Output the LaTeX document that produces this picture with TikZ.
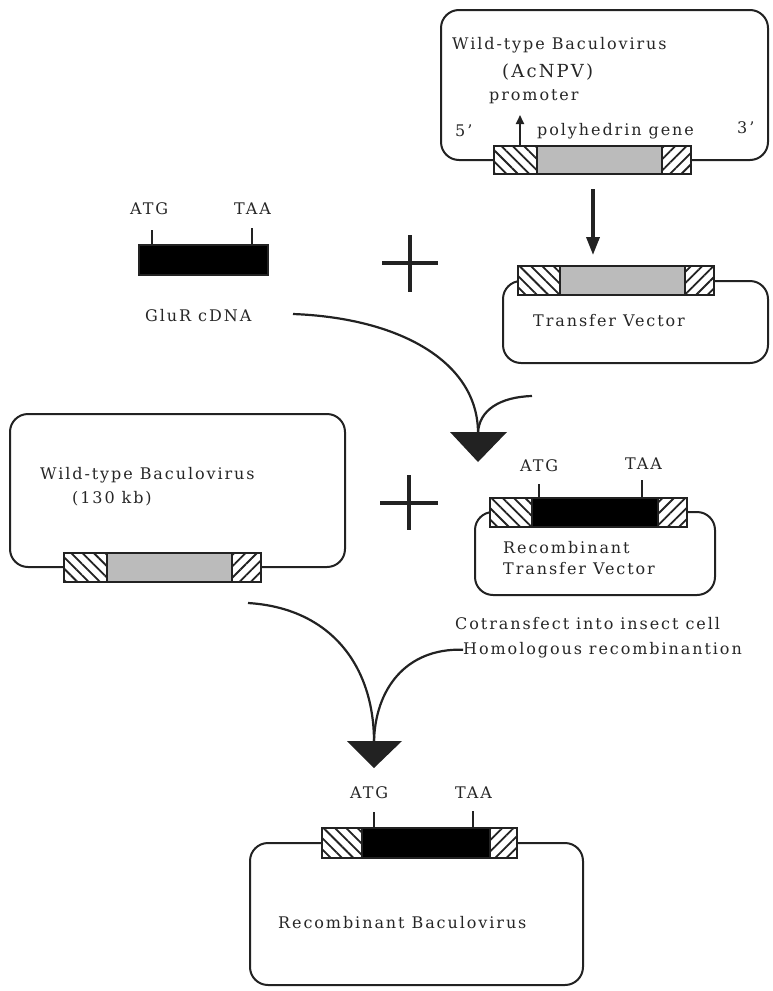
\documentclass[tikz,border=0pt]{standalone}
\usepackage{fontspec}
\setmainfont{DejaVu Serif}[LetterSpace=12]
\usetikzlibrary{patterns.meta,arrows.meta}
\definecolor{ink}{HTML}{222222}
\definecolor{genegray}{HTML}{BBBBBB}
\begin{document}
\begin{tikzpicture}[x=1pt,y=-1pt,
  box/.style={draw=ink,line width=2pt,rounded corners=18pt},
  hatchL/.style={draw=ink,line width=1.8pt,preaction={fill=white},
     pattern={Lines[angle=-45,distance=8pt,line width=1.8pt]},pattern color=ink},
  hatchR/.style={draw=ink,line width=1.8pt,preaction={fill=white},
     pattern={Lines[angle=45,distance=8pt,line width=1.8pt]},pattern color=ink},
  polyh/.style={draw=ink,line width=1.8pt,fill=genegray},
  coding/.style={draw=ink,line width=1.8pt,fill=black},
  lbl/.style={anchor=base west,inner sep=0pt,font=\fontsize{16}{18}\selectfont,text=black!85},
  tick/.style={draw=ink,line width=1.8pt},
  flow/.style={draw=ink,line width=2.2pt},
  plus/.style={draw=ink,line width=4pt},
  head/.style={fill=ink}]
\useasboundingbox (0,0) rectangle (772,991);

% ---------- top: wild-type AcNPV ----------
\draw[box] (441,10) rectangle (768,160);
\node[lbl] (wt1) at (452,49) {Wild-type Baculovirus};
\node[lbl,font=\fontsize{18}{20}\selectfont] (acnpv) at (502,77) {(AcNPV)};
\node[lbl] (prom) at (489,100) {promoter};
\node[lbl] (five) at (455,136) {5'};
\node[lbl] (poly) at (537,135) {polyhedrin gene};
\node[lbl] (three) at (737,133) {3'};
\path[hatchL] (494,146) rectangle (537,174);
\path[polyh] (537,146) rectangle (662,174);
\path[hatchR] (662,146) rectangle (691,174);
\coordinate (promfoot) at (520,146);
\coordinate (promtip) at (520,115);
\draw[line width=2pt,draw=ink,-{Triangle[width=8pt,length=9pt]}] (promfoot) -- (promtip);

% down arrow
\coordinate (dn1) at (593,189);
\coordinate (dn2) at (593,255);
\draw[draw=ink,line width=3.5pt,-{Triangle[width=13pt,length=18pt]}] (dn1) -- (dn2);

% ---------- transfer vector ----------
\draw[box] (503,281) rectangle (768,363);
\path[hatchL] (518,266) rectangle (560,295);
\path[polyh] (560,266) rectangle (685,295);
\path[hatchR] (685,266) rectangle (714,295);
\node[lbl] (tv) at (533,326) {Transfer Vector};

% ---------- GluR cDNA ----------
\path[coding] (139,245) rectangle (268,275);
\draw[tick] (152,245) -- (152,230);
\draw[tick] (252,245) -- (252,228);
\node[lbl] (atg1) at (130,214) {ATG};
\node[lbl] (taa1) at (234,214) {TAA};
\node[lbl] (glur) at (145,321) {GluR cDNA};

% plus 1
\draw[plus] (410,235) -- (410,292);
\draw[plus] (382,263) -- (438,263);

% merge arrow 1
\coordinate (c1s) at (293,314);
\coordinate (c2s) at (532,396);
\coordinate (m1) at (478,433);
\draw[flow] (c1s) .. controls (400,318) and (478,362) .. (m1);
\draw[flow] (c2s) .. controls (500,397) and (479,410) .. (m1);
\fill[head] (450,432) -- (507,432) -- (478,462) -- cycle;

% ---------- left wild-type ----------
\draw[box] (10,414) rectangle (345,567);
\path[hatchL] (64,553) rectangle (107,582);
\path[polyh] (107,553) rectangle (232,582);
\path[hatchR] (232,553) rectangle (261,582);
\node[lbl] (wt2) at (40,479) {Wild-type Baculovirus};
\node[lbl] (kb) at (72,503) {(130 kb)};

% plus 2
\draw[plus] (409,475) -- (409,530);
\draw[plus] (380,503) -- (438,503);

% ---------- recombinant transfer vector ----------
\draw[box] (475,512) rectangle (715,595);
\path[hatchL] (490,498) rectangle (532,527);
\path[coding] (532,498) rectangle (658,527);
\path[hatchR] (658,498) rectangle (687,527);
\draw[tick] (539,498) -- (539,484);
\draw[tick] (642,498) -- (642,480);
\node[lbl] (atg2) at (520,471) {ATG};
\node[lbl] (taa2) at (625,469) {TAA};
\node[lbl] (rec1) at (503,553) {Recombinant};
\node[lbl] (rec2) at (503,574) {Transfer Vector};

% ---------- cotransfection ----------
\node[lbl] (cot) at (455,629) {Cotransfect into insect cell};
\node[lbl] (homo) at (463,654) {Homologous recombinantion};
\coordinate (c3s) at (248,603);
\coordinate (m2) at (374,742);
\draw[flow] (c3s) .. controls (330,608) and (374,665) .. (m2);
\draw[flow] (homo.west) .. controls (405,648) and (375,690) .. (m2);
\fill[head] (347,741) -- (402,741) -- (374,768) -- cycle;

% ---------- recombinant baculovirus ----------
\draw[box] (250,843) rectangle (583,985);
\path[hatchL] (322,828) rectangle (362,858);
\path[coding] (362,828) rectangle (490,858);
\path[hatchR] (490,828) rectangle (517,858);
\draw[tick] (374,828) -- (374,812);
\draw[tick] (473,828) -- (473,811);
\node[lbl] (atg3) at (350,798) {ATG};
\node[lbl] (taa3) at (455,798) {TAA};
\node[lbl] (recb) at (278,928) {Recombinant Baculovirus};
\end{tikzpicture}
\end{document}
